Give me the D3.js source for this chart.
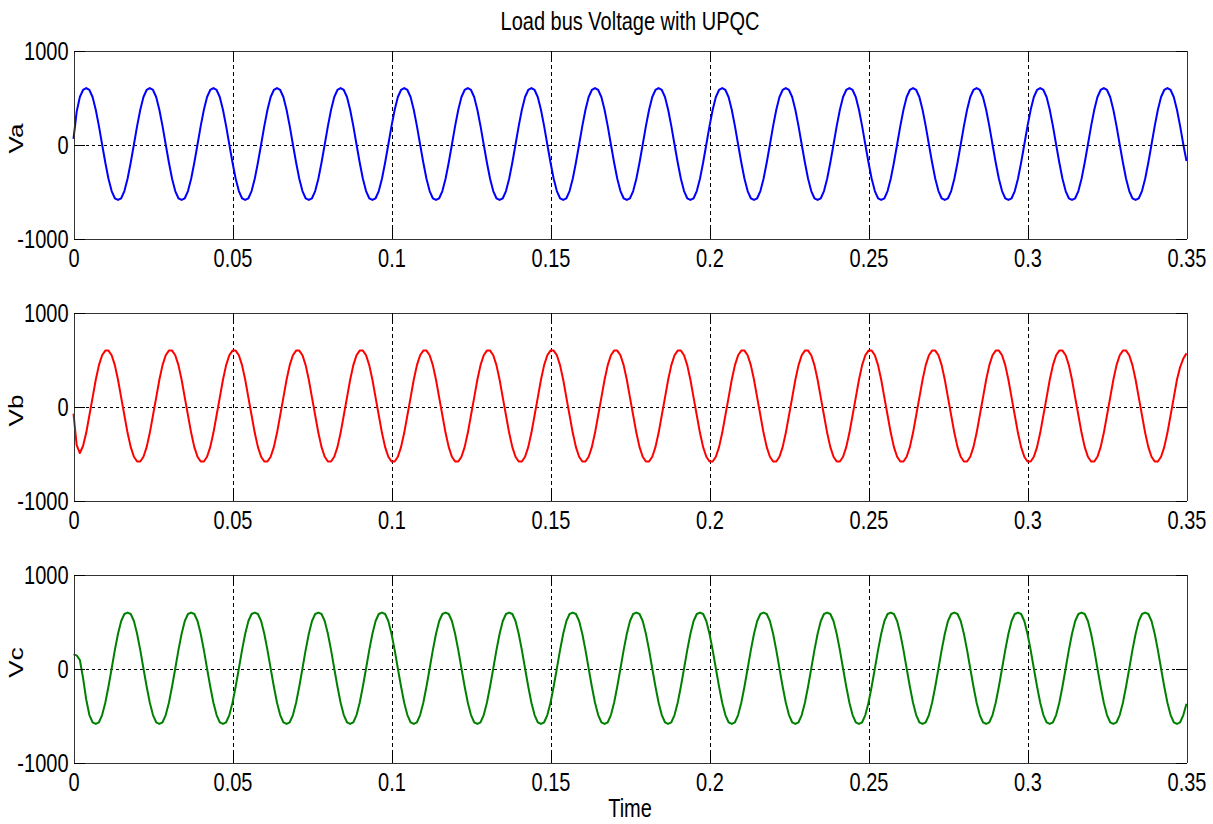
<!DOCTYPE html>
<html>
<head>
<meta charset="utf-8">
<script src="https://cdn.jsdelivr.net/npm/d3@7"></script>
<style>
body { margin: 0; background: #fff; }
svg text { font-family: "Liberation Sans", Arial, sans-serif; fill: #000; }
</style>
</head>
<body>
<div id="chart"></div>
<script>
// sampled at 1 ms, one cycle (20 ms) per row
const sampleStep = 0.001;

const vaValues = [
  60, 350, 505, 580, 600, 580, 505, 370, 195, 0, -192, -365, -495, -572, -590, -572, -495, -365, -192, 0,
  195, 370, 505, 580, 600, 580, 505, 370, 195, 0, -192, -365, -495, -572, -590, -572, -495, -365, -192, 0,
  195, 370, 505, 580, 600, 580, 505, 370, 195, 0, -192, -365, -495, -572, -590, -572, -495, -365, -192, 0,
  195, 370, 505, 580, 600, 580, 505, 370, 195, 0, -192, -365, -495, -572, -590, -572, -495, -365, -192, 0,
  195, 370, 505, 580, 600, 580, 505, 370, 195, 0, -192, -365, -495, -572, -590, -572, -495, -365, -192, 0,
  195, 370, 505, 580, 600, 580, 505, 370, 195, 0, -192, -365, -495, -572, -590, -572, -495, -365, -192, 0,
  195, 370, 505, 580, 600, 580, 505, 370, 195, 0, -192, -365, -495, -572, -590, -572, -495, -365, -192, 0,
  195, 370, 505, 580, 600, 580, 505, 370, 195, 0, -192, -365, -495, -572, -590, -572, -495, -365, -192, 0,
  195, 370, 505, 580, 600, 580, 505, 370, 195, 0, -192, -365, -495, -572, -590, -572, -495, -365, -192, 0,
  195, 370, 505, 580, 600, 580, 505, 370, 195, 0, -192, -365, -495, -572, -590, -572, -495, -365, -192, 0,
  195, 370, 505, 580, 600, 580, 505, 370, 195, 0, -192, -365, -495, -572, -590, -572, -495, -365, -192, 0,
  195, 370, 505, 580, 600, 580, 505, 370, 195, 0, -192, -365, -495, -572, -590, -572, -495, -365, -192, 0,
  195, 370, 505, 580, 600, 580, 505, 370, 195, 0, -192, -365, -495, -572, -590, -572, -495, -365, -192, 0,
  195, 370, 505, 580, 600, 580, 505, 370, 195, 0, -192, -365, -495, -572, -590, -572, -495, -365, -192, 0,
  195, 370, 505, 580, 600, 580, 505, 370, 195, 0, -192, -365, -495, -572, -590, -572, -495, -365, -192, 0,
  195, 370, 505, 580, 600, 580, 505, 370, 195, 0, -192, -365, -495, -572, -590, -572, -495, -365, -192, 0,
  195, 370, 505, 580, 600, 580, 505, 370, 195, 0, -192, -365, -495, -572, -590, -572, -495, -365, -192, 0,
  195, 370, 505, 580, 600, 580, 505, 370, 195, 0, -175
];

const vbValues = [
  -75, -410, -495, -420, -280, -93, 95, 285, 440, 545, 595, 595, 545, 440, 285, 95, -93, -280, -432, -535,
  -585, -585, -535, -432, -280, -93, 95, 285, 440, 545, 595, 595, 545, 440, 285, 95, -93, -280, -432, -535,
  -585, -585, -535, -432, -280, -93, 95, 285, 440, 545, 595, 595, 545, 440, 285, 95, -93, -280, -432, -535,
  -585, -585, -535, -432, -280, -93, 95, 285, 440, 545, 595, 595, 545, 440, 285, 95, -93, -280, -432, -535,
  -585, -585, -535, -432, -280, -93, 95, 285, 440, 545, 595, 595, 545, 440, 285, 95, -93, -280, -432, -535,
  -585, -585, -535, -432, -280, -93, 95, 285, 440, 545, 595, 595, 545, 440, 285, 95, -93, -280, -432, -535,
  -585, -585, -535, -432, -280, -93, 95, 285, 440, 545, 595, 595, 545, 440, 285, 95, -93, -280, -432, -535,
  -585, -585, -535, -432, -280, -93, 95, 285, 440, 545, 595, 595, 545, 440, 285, 95, -93, -280, -432, -535,
  -585, -585, -535, -432, -280, -93, 95, 285, 440, 545, 595, 595, 545, 440, 285, 95, -93, -280, -432, -535,
  -585, -585, -535, -432, -280, -93, 95, 285, 440, 545, 595, 595, 545, 440, 285, 95, -93, -280, -432, -535,
  -585, -585, -535, -432, -280, -93, 95, 285, 440, 545, 595, 595, 545, 440, 285, 95, -93, -280, -432, -535,
  -585, -585, -535, -432, -280, -93, 95, 285, 440, 545, 595, 595, 545, 440, 285, 95, -93, -280, -432, -535,
  -585, -585, -535, -432, -280, -93, 95, 285, 440, 545, 595, 595, 545, 440, 285, 95, -93, -280, -432, -535,
  -585, -585, -535, -432, -280, -93, 95, 285, 440, 545, 595, 595, 545, 440, 285, 95, -93, -280, -432, -535,
  -585, -585, -535, -432, -280, -93, 95, 285, 440, 545, 595, 595, 545, 440, 285, 95, -93, -280, -432, -535,
  -585, -585, -535, -432, -280, -93, 95, 285, 440, 545, 595, 595, 545, 440, 285, 95, -93, -280, -432, -535,
  -585, -585, -535, -432, -280, -93, 95, 285, 440, 545, 595, 595, 545, 440, 285, 95, -93, -280, -432, -535,
  -585, -585, -535, -432, -280, -93, 95, 285, 420, 510, 565
];

const vcValues = [
  150, 140, 90, -100, -330, -495, -572, -590, -572, -495, -365, -192, 0, 195, 370, 505, 580, 595, 580, 505,
  370, 195, 0, -192, -365, -495, -572, -590, -572, -495, -365, -192, 0, 195, 370, 505, 580, 595, 580, 505,
  370, 195, 0, -192, -365, -495, -572, -590, -572, -495, -365, -192, 0, 195, 370, 505, 580, 595, 580, 505,
  370, 195, 0, -192, -365, -495, -572, -590, -572, -495, -365, -192, 0, 195, 370, 505, 580, 595, 580, 505,
  370, 195, 0, -192, -365, -495, -572, -590, -572, -495, -365, -192, 0, 195, 370, 505, 580, 595, 580, 505,
  370, 195, 0, -192, -365, -495, -572, -590, -572, -495, -365, -192, 0, 195, 370, 505, 580, 595, 580, 505,
  370, 195, 0, -192, -365, -495, -572, -590, -572, -495, -365, -192, 0, 195, 370, 505, 580, 595, 580, 505,
  370, 195, 0, -192, -365, -495, -572, -590, -572, -495, -365, -192, 0, 195, 370, 505, 580, 595, 580, 505,
  370, 195, 0, -192, -365, -495, -572, -590, -572, -495, -365, -192, 0, 195, 370, 505, 580, 595, 580, 505,
  370, 195, 0, -192, -365, -495, -572, -590, -572, -495, -365, -192, 0, 195, 370, 505, 580, 595, 580, 505,
  370, 195, 0, -192, -365, -495, -572, -590, -572, -495, -365, -192, 0, 195, 370, 505, 580, 595, 580, 505,
  370, 195, 0, -192, -365, -495, -572, -590, -572, -495, -365, -192, 0, 195, 370, 505, 580, 595, 580, 505,
  370, 195, 0, -192, -365, -495, -572, -590, -572, -495, -365, -192, 0, 195, 370, 505, 580, 595, 580, 505,
  370, 195, 0, -192, -365, -495, -572, -590, -572, -495, -365, -192, 0, 195, 370, 505, 580, 595, 580, 505,
  370, 195, 0, -192, -365, -495, -572, -590, -572, -495, -365, -192, 0, 195, 370, 505, 580, 595, 580, 505,
  370, 195, 0, -192, -365, -495, -572, -590, -572, -495, -365, -192, 0, 195, 370, 505, 580, 595, 580, 505,
  370, 195, 0, -192, -365, -495, -572, -590, -572, -495, -365, -192, 0, 195, 370, 505, 580, 595, 580, 505,
  370, 195, 0, -192, -365, -495, -572, -590, -572, -495, -375
];

const xTicks = [0, 0.05, 0.1, 0.15, 0.2, 0.25, 0.3, 0.35];
const yTicks = [-1000, 0, 1000];
const panelLabels = ["Va", "Vb", "Vc"];
const panelColors = ["#0000ff", "#ff0000", "#008000"];
const chartTitle = "Load bus Voltage with UPQC";
const xTitle = "Time";

// layout
const width = 1213, height = 824;
const plotLeft = 73.5, plotRight = 1186.5;
const panelTops = [50.5, 312.5, 574.5];
const panelHeight = 188;
const labelShift = [-6, 4, -6];
const tickLen = 11;
const stretch = 1.25; // the source text is drawn taller than wide

const svg = d3.select("#chart").append("svg")
    .attr("width", width)
    .attr("height", height);

const xScale = d3.scaleLinear()
    .domain([xTicks[0], xTicks[xTicks.length - 1]])
    .range([plotLeft, plotRight]);

const series = [vaValues, vbValues, vcValues];

series.forEach((values, p) => {
    const top = panelTops[p];
    const bottom = top + panelHeight;
    const yScale = d3.scaleLinear()
        .domain([yTicks[0], yTicks[yTicks.length - 1]])
        .range([bottom, top]);

    const g = svg.append("g");

    // dotted grid (inner ticks only, the outer ones sit on the frame)
    g.selectAll(".vgrid")
        .data(xTicks.slice(1, -1))
        .join("line")
        .attr("x1", d => Math.round(xScale(d)) + 0.5)
        .attr("x2", d => Math.round(xScale(d)) + 0.5)
        .attr("y1", top)
        .attr("y2", bottom)
        .attr("stroke", "#000")
        .attr("stroke-width", 1)
        .attr("stroke-dasharray", "4,3")
        .attr("shape-rendering", "crispEdges");
    g.selectAll(".hgrid")
        .data(yTicks.slice(1, -1))
        .join("line")
        .attr("x1", plotLeft)
        .attr("x2", plotRight)
        .attr("y1", d => Math.round(yScale(d)) + 0.5)
        .attr("y2", d => Math.round(yScale(d)) + 0.5)
        .attr("stroke", "#000")
        .attr("stroke-width", 1)
        .attr("stroke-dasharray", "3,3")
        .attr("shape-rendering", "crispEdges");

    // waveform
    const line = d3.line()
        .x((d, i) => xScale(i * sampleStep))
        .y(d => yScale(d));
    g.append("path")
        .datum(values)
        .attr("d", line)
        .attr("fill", "none")
        .attr("stroke", panelColors[p])
        .attr("stroke-width", 2)
        .attr("stroke-linejoin", "round");

    // frame with inward ticks
    const axes = [
        [d3.axisBottom(xScale).tickValues(xTicks), `translate(0,${bottom})`, true],
        [d3.axisTop(xScale).tickValues(xTicks), `translate(0,${top})`, false],
        [d3.axisLeft(yScale).tickValues(yTicks), `translate(${plotLeft},0)`, true],
        [d3.axisRight(yScale).tickValues(yTicks), `translate(${plotRight},0)`, false]
    ];
    axes.forEach(([axis, tr, withLabels], k) => {
        axis.tickSizeInner(-tickLen).tickSizeOuter(0)
            .tickFormat(withLabels ? d => String(d) : "");
        const a = g.append("g")
            .attr("transform", tr)
            .attr("color", "#000")
            .call(axis);
        a.select(".domain").attr("stroke", "#333").attr("shape-rendering", "crispEdges");
        a.selectAll(".tick line").attr("shape-rendering", "crispEdges");
        a.selectAll("text")
            .attr("font-size", 20)
            .attr("font-family", "Liberation Sans, Arial, sans-serif")
            .attr("fill", "#000");
        if (withLabels && k === 0) {
            a.selectAll("text")
                .attr("y", 29 / stretch)
                .attr("dy", null)
                .attr("transform", `scale(1,${stretch})`);
        }
        if (withLabels && k === 2) {
            a.selectAll("text")
                .attr("x", -5)
                .attr("dy", "0.36em")
                .attr("transform", `scale(1,${stretch})`);
        }
    });

    // panel label
    svg.append("text")
        .attr("transform", `translate(23,${(top + bottom) / 2 + labelShift[p]}) rotate(-90) scale(1.3,1)`)
        .attr("text-anchor", "middle")
        .attr("font-size", 20)
        .text(panelLabels[p]);
});

svg.append("text")
    .attr("transform", `translate(${(plotLeft + plotRight) / 2},30) scale(1,${stretch})`)
    .attr("text-anchor", "middle")
    .attr("font-size", 20)
    .text(chartTitle);

svg.append("text")
    .attr("transform", `translate(${(plotLeft + plotRight) / 2},817) scale(1,${stretch})`)
    .attr("text-anchor", "middle")
    .attr("font-size", 20)
    .text(xTitle);
</script>
</body>
</html>
